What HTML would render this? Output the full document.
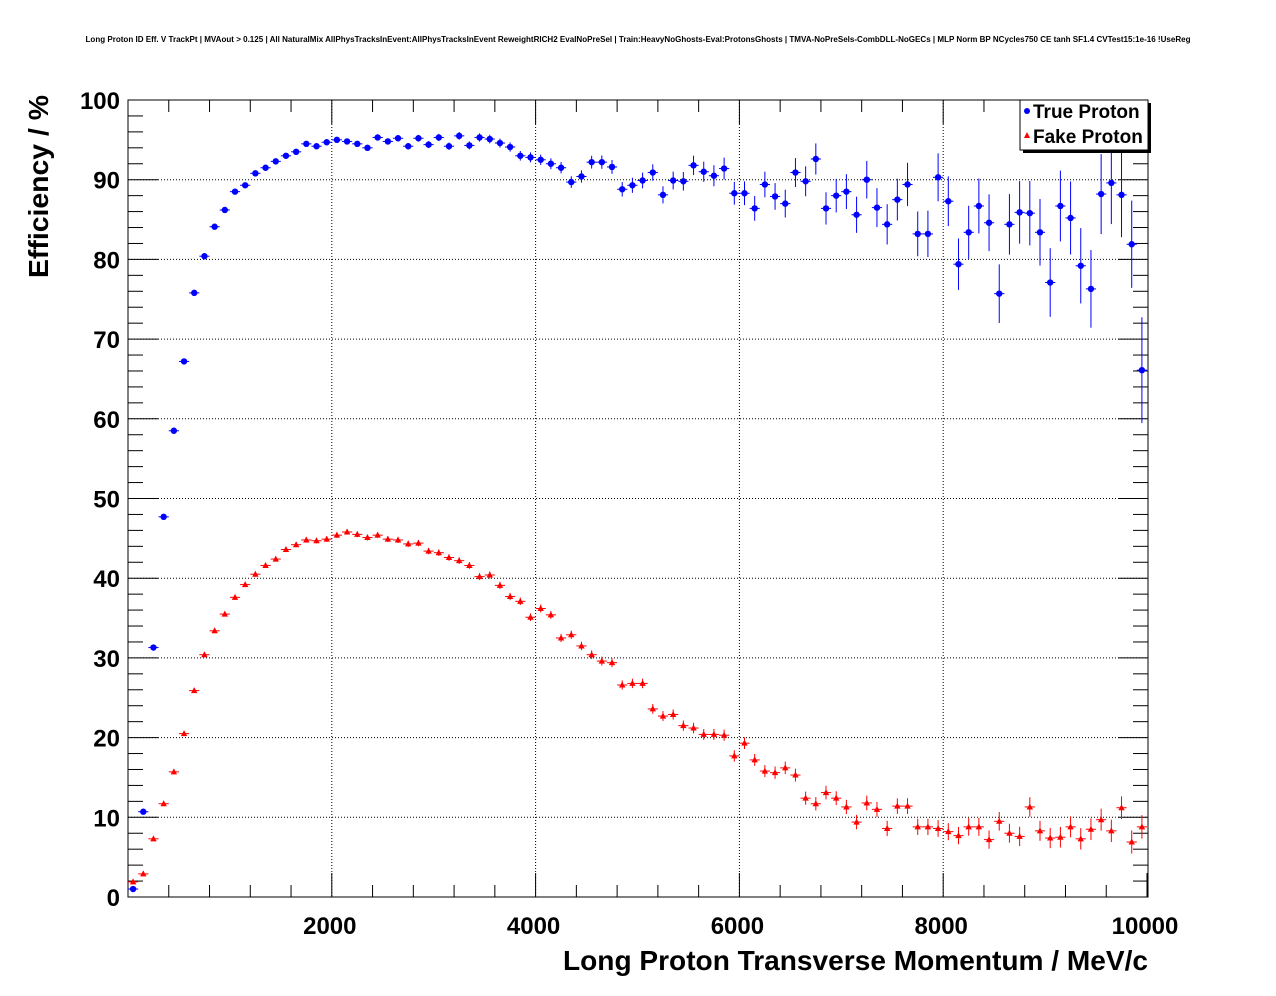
<!DOCTYPE html>
<html><head><meta charset="utf-8"><style>
html,body{margin:0;padding:0;background:#fff;}
svg{display:block;font-family:"Liberation Sans",sans-serif;}
</style></head><body>
<svg id="s" width="1276" height="996" viewBox="0 0 1276 996" xmlns="http://www.w3.org/2000/svg">
<rect width="1276" height="996" fill="#fff"/>
<text x="638" y="42" font-size="8" font-weight="bold" text-anchor="middle" textLength="1105" lengthAdjust="spacingAndGlyphs">Long Proton ID Eff. V TrackPt | MVAout &gt; 0.125 | All NaturalMix AllPhysTracksInEvent:AllPhysTracksInEvent ReweightRICH2 EvalNoPreSel | Train:HeavyNoGhosts-Eval:ProtonsGhosts | TMVA-NoPreSels-CombDLL-NoGECs | MLP Norm BP NCycles750 CE tanh SF1.4 CVTest15:1e-16 !UseReg</text>
<g id="grid"></g>
<rect x="128" y="100" width="1020" height="797" fill="none" stroke="#000" stroke-width="1"/>
<g id="ticks" stroke="#000" stroke-width="1"></g>
<g id="labels" font-size="24" font-weight="bold"></g>
<text x="1148" y="970" font-size="28" font-weight="bold" text-anchor="end" textLength="585" lengthAdjust="spacingAndGlyphs">Long Proton Transverse Momentum / MeV/c</text>
<text transform="translate(48,278) rotate(-90)" font-size="28" font-weight="bold" textLength="183" lengthAdjust="spacingAndGlyphs">Efficiency / %</text>
<g id="data"></g>
<rect x="1023" y="103" width="128" height="50" fill="#000"/>
<rect x="1020" y="100" width="128" height="50" fill="#fff" stroke="#000" stroke-width="1"/>
<circle cx="1027" cy="111" r="3" fill="#0000ff"/>
<text x="1033" y="118" font-size="19" font-weight="bold">True Proton</text>
<polygon points="1027,132 1024,138 1030,138" fill="#ff0000"/>
<text x="1033" y="143" font-size="19" font-weight="bold">Fake Proton</text>
</svg>
<script>
var NS="http://www.w3.org/2000/svg";
function el(p,t,a){var e=document.createElementNS(NS,t);for(var k in a)e.setAttribute(k,a[k]);p.appendChild(e);return e;}
function X(v){return 128+v*0.1019;}
function Y(v){return 897-v*7.97;}
var g=document.getElementById("grid"),tk=document.getElementById("ticks"),lb=document.getElementById("labels"),d=document.getElementById("data");
for(var i=1;i<=9;i++){el(g,"line",{x1:128,x2:1148,y1:Y(i*10),y2:Y(i*10),stroke:"#000","stroke-dasharray":"1,2","stroke-width":1});}
for(var i=1;i<=4;i++){el(g,"line",{x1:X(i*2000),x2:X(i*2000),y1:100,y2:897,stroke:"#000","stroke-dasharray":"1,2","stroke-width":1});}
for(var v=0;v<=100;v+=2){var L=v%10==0?30:15;el(tk,"line",{x1:128,x2:128+L,y1:Y(v),y2:Y(v)});el(tk,"line",{x1:1148,x2:1148-L,y1:Y(v),y2:Y(v)});}
for(var v=0;v<=10000;v+=400){var L=v%2000==0?24:12;el(tk,"line",{x1:X(v),x2:X(v),y1:897,y2:897-L});el(tk,"line",{x1:X(v),x2:X(v),y1:100,y2:100+L});}
for(var v=0;v<=100;v+=10){var t=el(lb,"text",{x:120,y:Y(v)+9,"text-anchor":"end"});t.textContent=v;}
for(var v=2000;v<=10000;v+=2000){var t=el(lb,"text",{x:X(v)-2,y:934,"text-anchor":"middle"});t.textContent=v;}
var B=[1,10.7,31.3,47.7,58.5,67.2,75.8,80.4,84.1,86.2,88.5,89.3,90.8,91.5,92.3,93,93.5,94.5,94.2,94.7,95,94.8,94.5,94,95.3,94.8,95.2,94.2,95.2,94.4,95.3,94.2,95.5,94.3,95.3,95.1,94.6,94.1,93,92.8,92.5,92,91.5,89.7,90.4,92.2,92.2,91.6,88.8,89.3,89.9,90.9,88.1,89.9,89.8,91.8,91,90.5,91.4,88.3,88.3,86.4,89.4,87.9,87,90.9,89.8,92.6,86.4,88,88.5,85.6,90,86.5,84.4,87.5,89.4,83.2,83.2,90.3,87.3,79.4,83.4,86.7,84.6,75.7,84.4,85.9,85.8,83.4,77.1,86.7,85.2,79.2,76.3,88.2,89.6,88.1,81.9,66.1];
var R=[1.9,2.9,7.3,11.7,15.7,20.5,25.9,30.4,33.4,35.5,37.6,39.2,40.5,41.6,42.4,43.6,44.2,44.8,44.7,44.9,45.4,45.8,45.5,45.1,45.4,44.9,44.8,44.3,44.4,43.4,43.2,42.6,42.2,41.6,40.2,40.4,39.1,37.7,37.1,35.1,36.2,35.4,32.5,32.9,31.5,30.4,29.6,29.4,26.6,26.8,26.8,23.6,22.7,22.9,21.5,21.2,20.4,20.4,20.3,17.7,19.3,17.2,15.8,15.6,16.2,15.3,12.4,11.7,13.1,12.4,11.3,9.4,11.8,11,8.6,11.4,11.4,8.8,8.8,8.6,8.2,7.7,8.8,8.8,7.2,9.5,8,7.6,11.3,8.3,7.4,7.5,8.8,7.3,8.5,9.7,8.3,11.2,6.9,8.8];
for(var i=0;i<100;i++){
 var x=X(i*100+50),x0=X(i*100),x1=X(i*100+100);
 var f=i/100;var eb=0.3+Math.pow(f,3)*5.5+(i>=99?1:0);
 var yb=Y(B[i]);
 el(d,"line",{x1:x0,x2:x1,y1:yb,y2:yb,stroke:"#0000ff"});
 el(d,"line",{x1:x,x2:x,y1:Y(B[i]+eb),y2:Y(B[i]-eb),stroke:"#0000ff"});
 el(d,"circle",{cx:x,cy:yb,r:3.2,fill:"#0000ff"});
 var er=0.3+Math.pow(f,2)*1.2;
 var yr=Y(R[i]);
 el(d,"line",{x1:x0,x2:x1,y1:yr,y2:yr,stroke:"#ff0000"});
 el(d,"line",{x1:x,x2:x,y1:Y(R[i]+er),y2:Y(R[i]-er),stroke:"#ff0000"});
 el(d,"polygon",{points:(x)+","+(yr-3.5)+" "+(x-3.2)+","+(yr+2.5)+" "+(x+3.2)+","+(yr+2.5),fill:"#ff0000"});
}
</script>
</body></html>
